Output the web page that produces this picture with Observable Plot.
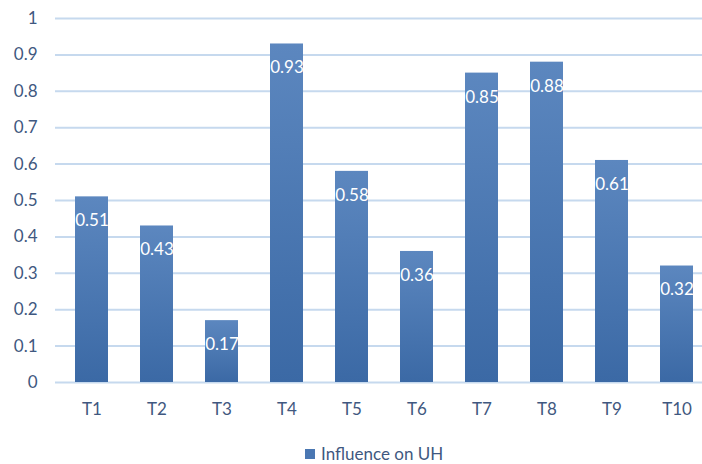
<!DOCTYPE html>
<html>
<head>
<meta charset="utf-8">
<script src="https://cdn.jsdelivr.net/npm/d3@7"></script>
<script src="https://cdn.jsdelivr.net/npm/@observablehq/plot@0.6"></script>
<style>
  html, body { margin: 0; padding: 0; background: #fff; }
  #chart { width: 702px; height: 464px; position: relative; font-family: Lato, "Open Sans", sans-serif; }
  #legend { position: absolute; left: 305px; top: 443px; display: flex; align-items: center; font-size: 17px; color: #3f5880; }
  #legend .swatch { width: 10px; height: 10px; background: #4a77b2; margin-right: 6px; }
</style>
</head>
<body>
<div id="chart"></div>
<script>
// Categories and their influence values
const categories = ["T1", "T2", "T3", "T4", "T5", "T6", "T7", "T8", "T9", "T10"];
const influence = [0.51, 0.43, 0.17, 0.93, 0.58, 0.36, 0.85, 0.88, 0.61, 0.32];
const yTicks = [0, 0.1, 0.2, 0.3, 0.4, 0.5, 0.6, 0.7, 0.8, 0.9, 1];
const seriesName = "Influence on UH";

const data = categories.map((c, i) => ({category: c, value: influence[i]}));
const textColor = "#3f5880";

// Vertical gradient shared by every bar
const gradientDefs = () => {
  const defs = d3.create("svg:defs");
  const g = defs.append("linearGradient")
    .attr("id", "barGrad")
    .attr("x1", 0).attr("y1", 0).attr("x2", 0).attr("y2", 1);
  g.append("stop").attr("offset", "0%").attr("stop-color", "#5c87bf");
  g.append("stop").attr("offset", "100%").attr("stop-color", "#3b69a5");
  return defs.node();
};

const chart = Plot.plot({
  width: 702,
  height: 434,
  marginTop: 18,
  marginBottom: 52,
  marginLeft: 55,
  marginRight: 0,
  style: {fontFamily: "Lato, 'Open Sans', sans-serif", fontSize: "17px", color: textColor, background: "#fff"},
  x: {domain: categories, range: [55, 713], paddingInner: 0.5, paddingOuter: 0.25, label: null},
  y: {domain: [0, 1], label: null},
  marks: [
    gradientDefs,
    Plot.ruleY(yTicks, {stroke: "#c6d9ee", strokeWidth: 2}),
    Plot.barY(data, {x: "category", y: "value", fill: "url(#barGrad)"}),
    Plot.text(data, {
      x: "category", y: "value", text: d => d.value.toFixed(2),
      dy: 24, fill: "white", fontSize: 17
    }),
    Plot.axisY({ticks: yTicks, tickFormat: d3.format(""), tickSize: 0, tickPadding: 18, fontSize: 17, fill: textColor}),
    Plot.axisX({tickSize: 0, tickPadding: 20, fontSize: 17, fill: textColor})
  ]
});

const root = document.getElementById("chart");
root.appendChild(chart);
const legend = document.createElement("div");
legend.id = "legend";
legend.innerHTML = '<span class="swatch"></span><span></span>';
legend.lastChild.textContent = seriesName;
root.appendChild(legend);
</script>
</body>
</html>
